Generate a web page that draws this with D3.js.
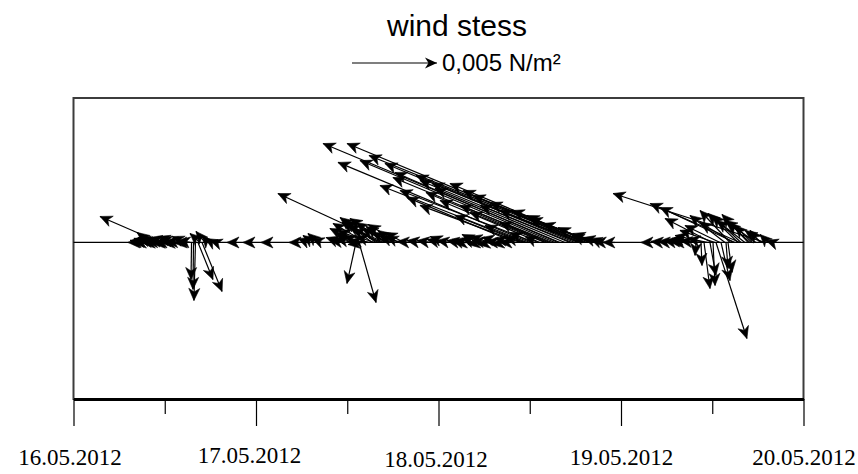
<!DOCTYPE html>
<html>
<head>
<meta charset="utf-8">
<script src="https://cdn.jsdelivr.net/npm/d3@7"></script>
<style>
  body { margin: 0; background: #fff; }
  svg { display: block; }
</style>
</head>
<body>
<svg id="chart" width="858" height="474"></svg>
<script>
// Observation times, hours after 16.05.2012 00:00
const hours = [
  8.75, 9.14, 9.53, 9.80, 10.06, 10.45, 10.72, 11.11, 11.38, 11.77,
  12.03, 12.43, 12.69, 13.09, 13.35, 13.74, 14.14, 14.40, 14.79, 15.06,
  15.32, 15.52, 15.78, 16.04, 16.37, 16.64, 16.90, 17.29, 17.69, 18.22,
  18.74, 21.37, 23.47, 25.84,
  29.79, 30.84, 31.50, 32.15, 32.68,
  35.05, 35.70, 36.36, 36.63, 37.15, 37.41, 37.55, 37.94, 38.20, 38.47,
  38.73, 38.99, 39.26, 39.65, 39.78, 40.04, 40.31, 40.57, 40.83, 40.97,
  41.10, 41.36, 41.62, 41.88, 42.15, 42.41, 42.68, 42.94, 43.46,
  44.25, 45.57, 46.89, 48.20, 48.86, 49.39, 50.57,
  51.09, 51.88, 52.67, 53.20, 53.46, 54.25, 54.78, 55.04, 55.83, 56.49,
  56.75, 57.67, 58.05, 58.19, 58.72, 58.98, 59.38, 59.51, 59.64, 60.03,
  60.30, 60.69, 61.09, 61.35, 62.01, 62.14, 62.40, 62.66, 62.93, 63.32,
  63.72, 63.98, 64.64, 65.29, 65.56, 65.95, 66.35, 66.48, 66.61, 66.87,
  67.00, 67.14, 67.27, 67.53, 67.80, 67.93, 68.06, 68.19, 68.45, 68.58,
  68.71, 68.98, 69.24, 69.37, 70.03, 71.21,
  76.08, 77.40, 78.45, 79.24, 80.42, 81.08, 81.74, 81.87, 82.39, 82.52,
  82.92, 83.04, 83.44, 83.70, 83.96, 84.10, 84.36, 84.49, 85.02, 85.15,
  85.68, 85.81, 86.07, 86.33, 86.73, 86.99, 87.38, 87.65, 87.78, 88.30,
  88.70, 88.96, 89.22, 89.75, 90.28, 90.55, 90.94, 91.33, 91.86
];

// Eastward wind-stress component, 10^-3 N/m²
const tauX = [
  -0.71, -0.76, -0.71, -0.82, -0.76, -0.88, -0.88, -0.88, -3.53, -1.00,
  -0.94, -1.06, -1.00, -1.06, -1.00, -1.06, -1.06, -1.00, -0.82, -0.76,
  -0.71, -0.03, -0.03, -0.09, 0.88, -0.59, 1.18, -0.53, -0.35, -0.41,
  -0.35, -0.53, -0.53, -0.53,
  -0.65, -0.59, -0.59, -0.59, -0.59,
  -0.82, -0.88, -0.82, -0.94, -0.53, -1.65, 1.00, -1.06, -0.94, -1.94,
  -1.76, -1.18, -1.88, -1.12, -1.82, -1.76, -2.24, -1.76, -6.24, -1.71,
  -2.12, -1.53, -1.41, -1.18, -0.94, -0.94, -1.76, -0.82, -1.12,
  -0.76, -0.76, -0.76, -0.76, -0.88, -0.71, -0.65,
  -0.59, -0.76, -0.71, -0.94, -0.71, -0.82, -1.18, -0.82, -0.71, -1.24,
  -0.76, -0.71, -6.35, -1.24, -5.88, -3.94, -8.53, -1.24, -2.47, -11.29,
  -1.29, -7.94, -0.76, -5.88, -4.41, -7.06, -2.82, -9.24, -5.41, -11.47,
  -9.59, -13.94, -7.65, -8.82, -5.41, -11.18, -8.59, -9.59, -6.88, -4.82,
  -3.29, -12.65, -14.00, -5.71, -1.82, -8.24, -1.12, -7.00, -4.82, -3.82,
  -3.12, -1.47, -1.00, -0.65, -0.71, -0.71,
  -0.65, -0.65, -0.71, -0.71, -0.76, -1.29, -0.88, -0.06, -1.65, 0.06,
  0.35, -1.00, -1.94, 0.35, -2.76, 0.12, -2.06, 1.82, -2.06, 0.53,
  -2.06, 0.12, 0.24, -1.76, -1.94, -4.41, -1.76, -5.29, -1.71, -1.65,
  -1.53, -1.29, -1.00, -1.82, -0.59, -1.00, -8.94, -0.47, -0.35
];

// Northward wind-stress component, 10^-3 N/m²
const tauY = [
  0.00, 0.12, 0.24, -0.06, 0.59, 0.29, 0.12, -0.06, 1.53, 0.06,
  0.18, 0.29, -0.06, 0.00, 0.35, 0.18, -0.06, 0.06, 0.35, -0.06,
  0.12, -2.18, -2.76, -3.41, -2.18, 0.53, -2.88, 0.65, 0.41, 0.24,
  0.12, 0.00, 0.00, 0.00,
  0.00, 0.24, 0.41, 0.53, 0.24,
  0.29, 0.12, 0.59, 0.24, -2.41, 0.82, -3.53, 0.35, -0.12, 1.12,
  0.71, 0.12, 1.47, 0.35, 1.29, 1.06, 1.18, 0.76, 2.88, 1.18,
  1.41, 0.82, 0.94, 0.59, 0.71, 0.35, 1.06, 0.35, 0.59,
  0.06, 0.12, 0.12, 0.18, 0.35, 0.12, 0.12,
  0.18, -0.06, 0.24, 0.47, -0.12, 0.12, 0.35, -0.12, 0.06, 0.29,
  -0.12, 0.00, 2.65, 0.24, 2.18, 1.59, 3.35, 0.29, 1.00, 4.71,
  0.59, 3.06, 0.35, 2.47, 1.76, 2.94, 1.18, 3.82, 2.18, 4.82,
  4.12, 5.82, 3.18, 3.65, 2.18, 4.65, 3.47, 3.94, 3.06, 1.88,
  1.59, 5.12, 5.82, 2.35, 0.88, 3.47, 0.41, 2.76, 1.88, 1.41,
  1.12, 0.53, 0.29, 0.24, 0.06, 0.00,
  0.00, 0.06, 0.06, 0.12, 0.00, 0.12, 0.12, -0.76, 0.24, -1.35,
  -2.71, 0.24, 0.41, -1.94, 1.41, -2.53, 0.71, -5.65, 1.00, -2.24,
  1.59, -1.53, -1.76, 1.88, 1.18, 2.06, 1.71, 2.29, 1.59, 1.29,
  1.65, 1.18, 1.00, 1.29, 0.71, 0.71, 2.88, 0.47, 0.12
];

const dayLabels = ["16.05.2012", "17.05.2012", "18.05.2012", "19.05.2012", "20.05.2012"];
const refStress = 5;            // legend arrow, 10^-3 N/m² (= 0.005 N/m²)
const refLabel = "0,005 N/m²";
const titleText = "wind stess";

const svg = d3.select("#chart");
const start = new Date(2012, 4, 16);
const end = new Date(2012, 4, 20);

const plot = { left: 73.5, right: 803.5, top: 98, bottom: 399 };

const x = d3.scaleTime().domain([start, end]).range([plot.left, plot.right]);
// vertical stress scale, zero on the centre line
const y = d3.scaleLinear().domain([-9.21, 8.5]).range([plot.bottom, plot.top]);
// horizontal stress length uses the same pixels per unit as y
const pxPerUnit = y(0) - y(1);
const ux = d3.scaleLinear().domain([0, 1]).range([0, pxPerUnit]);

const HEAD_LEN = 12, HEAD_HALF = 5.5, HEAD_NOTCH = 3.5;

function headPath(x0, y0, x1, y1) {
  const a = Math.atan2(y1 - y0, x1 - x0);
  const dx = Math.cos(a), dy = Math.sin(a);
  const px = -dy, py = dx;
  const bx = x1 - HEAD_LEN * dx, by = y1 - HEAD_LEN * dy;
  const nx = x1 - (HEAD_LEN - HEAD_NOTCH) * dx, ny = y1 - (HEAD_LEN - HEAD_NOTCH) * dy;
  return `M${x1},${y1}L${bx + HEAD_HALF * px},${by + HEAD_HALF * py}L${nx},${ny}L${bx - HEAD_HALF * px},${by - HEAD_HALF * py}Z`;
}

// plot frame
svg.append("rect")
  .attr("x", plot.left).attr("y", plot.top)
  .attr("width", plot.right - plot.left).attr("height", plot.bottom - plot.top)
  .attr("fill", "none").attr("stroke", "#3c3c3c").attr("stroke-width", 2);

// zero line
svg.append("line")
  .attr("x1", plot.left).attr("x2", plot.right)
  .attr("y1", y(0)).attr("y2", y(0))
  .attr("stroke", "#000").attr("stroke-width", 1.2);

// vectors
const data = hours.map((h, i) => ({
  t: new Date(start.getTime() + h * 3600e3), u: tauX[i], v: tauY[i]
})).sort((a, b) => a.t - b.t);

const vec = svg.append("g").attr("class", "vectors");
data.forEach(d => {
  const x0 = x(d.t), y0 = y(0);
  const x1 = x0 + ux(d.u), y1 = y(d.v);
  vec.append("line")
    .attr("x1", x0).attr("y1", y0).attr("x2", x1).attr("y2", y1)
    .attr("stroke", "#000").attr("stroke-width", 1.2);
  vec.append("path").attr("d", headPath(x0, y0, x1, y1))
    .attr("fill", "#000").attr("stroke", "#000").attr("stroke-width", 0.6);
});

// time axis
const dayTicks = d3.range(5).map(i => d3.timeDay.offset(start, i));
const halfTicks = d3.range(4).map(i => d3.timeHour.offset(start, 12 + 24 * i));
const labelShift = [[-4, 0], [-7, -2], [-3, 2], [0, 0], [0, 0]];

const axis = svg.append("g").attr("transform", `translate(0,${plot.bottom})`)
  .call(d3.axisBottom(x).tickValues(dayTicks).tickSize(27).tickSizeOuter(0)
    .tickFormat((d, i) => dayLabels[i]).tickPadding(23));
axis.select(".domain").attr("stroke", "#000").attr("stroke-width", 3);
axis.selectAll(".tick line").attr("stroke", "#000").attr("stroke-width", 1.2);
axis.selectAll(".tick text")
  .attr("font-family", "'Liberation Serif', 'Times New Roman', serif")
  .attr("font-size", 23).attr("fill", "#000")
  .attr("transform", (d, i) => `translate(${labelShift[i][0]},${labelShift[i][1]})`);

const minor = svg.append("g").attr("transform", `translate(0,${plot.bottom})`)
  .call(d3.axisBottom(x).tickValues(halfTicks).tickSize(15).tickSizeOuter(0).tickFormat(""));
minor.select(".domain").remove();
minor.selectAll(".tick line").attr("stroke", "#000").attr("stroke-width", 1.2);

// title
svg.append("text")
  .attr("x", 457).attr("y", 36)
  .attr("text-anchor", "middle")
  .attr("font-family", "'Liberation Sans', Arial, sans-serif")
  .attr("font-size", 30).attr("fill", "#000")
  .text(titleText);

// reference arrow
const lx0 = 352, ly = 63;
const lx1 = lx0 + ux(refStress);
svg.append("line").attr("x1", lx0).attr("y1", ly).attr("x2", lx1).attr("y2", ly)
  .attr("stroke", "#000").attr("stroke-width", 1.2);
svg.append("path").attr("d", headPath(lx0, ly, lx1, ly)).attr("fill", "#000");
svg.append("text")
  .attr("x", lx1 + 5).attr("y", ly + 8)
  .attr("font-family", "'Liberation Sans', Arial, sans-serif")
  .attr("font-size", 24).attr("fill", "#000")
  .text(refLabel);
</script>
</body>
</html>
